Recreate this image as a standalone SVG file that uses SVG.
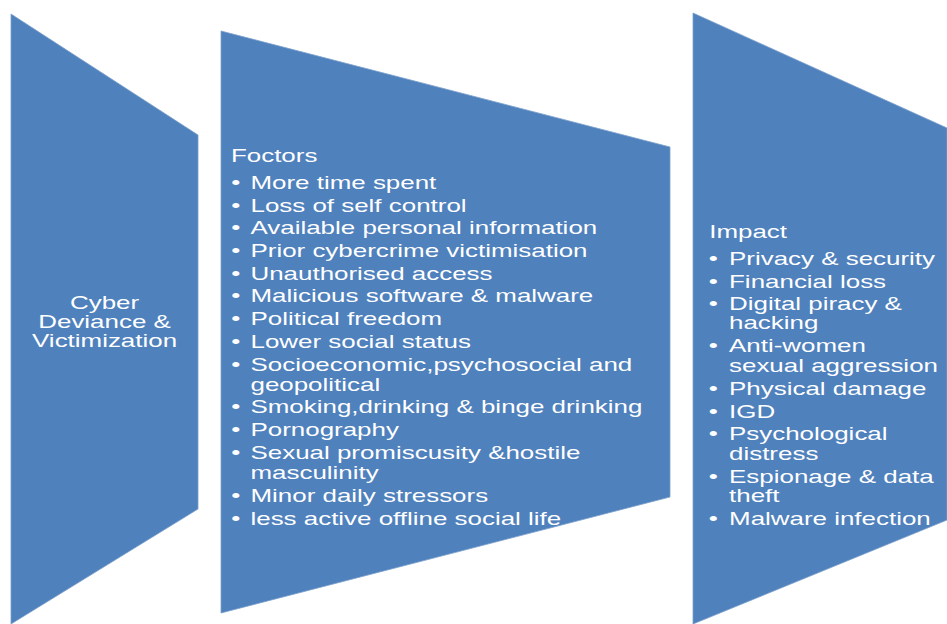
<svg xmlns="http://www.w3.org/2000/svg" width="947" height="624" viewBox="0 0 947 624">
  <style>
    .panel { fill: #4F81BD; stroke: #7a9fcc; stroke-width: 0.8; }
    .txt { font-family: "Liberation Sans", Arial, sans-serif; font-size: 19px; fill: #ffffff; }
    .mid { text-anchor: middle; }
  </style>
  <rect width="947" height="624" fill="#ffffff"/>

  <!-- Stage 1: subject -->
  <g id="node-cyber">
    <polygon class="panel" points="11,14 198,135 198,509 11,624"/>
    <g transform="scale(1.365 1)">
      <text class="txt mid" x="76.6" y="309">Cyber<tspan x="76.6" dy="19">Deviance &amp;</tspan><tspan x="76.6" dy="19">Victimization</tspan></text>
    </g>
  </g>

  <!-- Stage 2: contributing factors -->
  <g id="node-factors">
    <polygon class="panel" points="221,31 670,147 670,497 221,613"/>
    <g transform="scale(1.365 1)" class="txt">
      <text x="169.2" y="162.3">Foctors</text>
      <g>
        <text x="169.4" y="189">•</text><text x="183.5" y="189">More time spent</text>
        <text x="169.4" y="211.7">•</text><text x="183.5" y="211.7">Loss of self control</text>
        <text x="169.4" y="234.4">•</text><text x="183.5" y="234.4">Available personal information</text>
        <text x="169.4" y="257.1">•</text><text x="183.5" y="257.1">Prior cybercrime victimisation</text>
        <text x="169.4" y="279.8">•</text><text x="183.5" y="279.8">Unauthorised access</text>
        <text x="169.4" y="302.5">•</text><text x="183.5" y="302.5">Malicious software &amp; malware</text>
        <text x="169.4" y="325.2">•</text><text x="183.5" y="325.2">Political freedom</text>
        <text x="169.4" y="347.9">•</text><text x="183.5" y="347.9">Lower social status</text>
        <text x="169.4" y="370.6">•</text><text x="183.5" y="370.6">Socioeconomic,psychosocial and<tspan x="183.5" dy="20.3">geopolitical</tspan></text>
        <text x="169.4" y="413.5">•</text><text x="183.5" y="413.5">Smoking,drinking &amp; binge drinking</text>
        <text x="169.4" y="436.2">•</text><text x="183.5" y="436.2">Pornography</text>
        <text x="169.4" y="458.9">•</text><text x="183.5" y="458.9">Sexual promiscusity &amp;hostile<tspan x="183.5" dy="20.3">masculinity</tspan></text>
        <text x="169.4" y="501.9">•</text><text x="183.5" y="501.9">Minor daily stressors</text>
        <text x="169.4" y="524.6">•</text><text x="183.5" y="524.6">less active offline social life</text>
      </g>
    </g>
  </g>

  <!-- Stage 3: impact -->
  <g id="node-impact">
    <polygon class="panel" points="693,13 947,128 947,520 693,624"/>
    <g transform="scale(1.365 1)" class="txt">
      <text x="519.6" y="237.7">Impact</text>
      <text x="519.3" y="265">•</text><text x="534.1" y="265">Privacy &amp; security</text>
      <text x="519.3" y="287.7">•</text><text x="534.1" y="287.7">Financial loss</text>
      <text x="519.3" y="310.2">•</text><text x="534.1" y="310.2">Digital piracy &amp;<tspan x="534.1" dy="19.3">hacking</tspan></text>
      <text x="519.3" y="352.3">•</text><text x="534.1" y="352.3">Anti-women<tspan x="534.1" dy="19.4">sexual aggression</tspan></text>
      <text x="519.3" y="395">•</text><text x="534.1" y="395">Physical damage</text>
      <text x="519.3" y="417.7">•</text><text x="534.1" y="417.7">IGD</text>
      <text x="519.3" y="440.2">•</text><text x="534.1" y="440.2">Psychological<tspan x="534.1" dy="19.8">distress</tspan></text>
      <text x="519.3" y="483.3">•</text><text x="534.1" y="483.3">Espionage &amp; data<tspan x="534.1" dy="19.2">theft</tspan></text>
      <text x="519.3" y="525">•</text><text x="534.1" y="525">Malware infection</text>
    </g>
  </g>

  <g id="connectors"></g>
</svg>
